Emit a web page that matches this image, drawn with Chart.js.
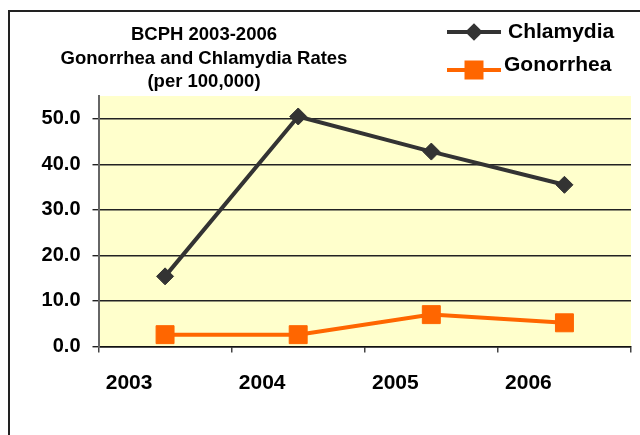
<!DOCTYPE html>
<html><head><meta charset="utf-8">
<script src="https://cdn.jsdelivr.net/npm/chart.js@4/dist/chart.umd.min.js"></script>
<style>html,body{margin:0;padding:0;background:#fff}#wrap{width:640px;height:435px;position:relative}</style>
</head><body><div id="wrap"><canvas id="c" width="640" height="435"></canvas></div>
<script>
const years = ['2003', '2004', '2005', '2006'];
const chlamydia = [15.4, 50.5, 42.8, 35.5];
const gonorrhea = [2.6, 2.6, 7.0, 5.2];
const yTickValues = [0, 10, 20, 30, 40, 50];
const titleLines = ['BCPH 2003-2006', 'Gonorrhea and Chlamydia Rates', '(per 100,000)'];
const seriesNames = ['Chlamydia', 'Gonorrhea'];

const FONT = '"Liberation Sans", Arial, sans-serif';

const decorPlugin = {
  id: 'decor',
  beforeDraw(chart) {
    const ctx = chart.ctx, a = chart.chartArea;
    ctx.save();
    ctx.fillStyle = '#fff';
    ctx.fillRect(0, 0, chart.width, chart.height);
    ctx.fillStyle = '#FFFFCC';
    ctx.fillRect(a.left, a.top, a.right - a.left, a.bottom - a.top);
    ctx.strokeStyle = '#222';
    ctx.lineWidth = 2;
    ctx.beginPath();
    ctx.moveTo(9, 500); ctx.lineTo(9, 11); ctx.lineTo(700, 11);
    ctx.stroke();
    ctx.restore();
  },
  afterDraw(chart) {
    const ctx = chart.ctx;
    ctx.save();
    ctx.fillStyle = '#000';
    ctx.font = 'bold 18.5px ' + FONT;
    ctx.textAlign = 'center';
    ctx.textBaseline = 'middle';
    const ty = [35, 58.5, 82];
    titleLines.forEach((t, i) => ctx.fillText(t, 204, ty[i]));
    const L = [
      {ly: 32, ty: 32, tx: 508, r: 6},
      {ly: 70, ty: 65, tx: 504, r: 10.6}
    ];
    chart.data.datasets.forEach((ds, i) => {
      const p = L[i];
      ctx.strokeStyle = ds.borderColor;
      ctx.lineWidth = 4;
      ctx.beginPath();
      ctx.moveTo(447, p.ly); ctx.lineTo(501, p.ly);
      ctx.stroke();
      ctx.fillStyle = ds.backgroundColor;
      ctx.strokeStyle = ds.borderColor;
      Chart.helpers.drawPoint(ctx, {pointStyle: ds.pointStyle, radius: p.r, rotation: 0, borderWidth: 1}, 474, p.ly);
      ctx.fillStyle = '#000';
      ctx.font = 'bold 21px ' + FONT;
      ctx.textAlign = 'left';
      ctx.textBaseline = 'middle';
      ctx.fillText(ds.label, p.tx, p.ty);
    });
    ctx.restore();
  }
};

new Chart(document.getElementById('c'), {
  type: 'line',
  data: {
    labels: years,
    datasets: [
      {
        label: seriesNames[0], data: chlamydia,
        borderColor: '#333333', backgroundColor: '#333333',
        borderWidth: 4, pointStyle: 'rectRot', pointRadius: 8.5,
        pointBorderWidth: 1, pointHoverRadius: 8.5, tension: 0
      },
      {
        label: seriesNames[1], data: gonorrhea,
        borderColor: '#FF6600', backgroundColor: '#FF6600',
        borderWidth: 4, pointStyle: 'rect', pointRadius: 12.7,
        pointBorderWidth: 1, pointHoverRadius: 12.7, tension: 0
      }
    ]
  },
  options: {
    responsive: false,
    animation: false,
    events: [],
    layout: {autoPadding: false, padding: {top: 96, right: 9, bottom: 0, left: 0}},
    plugins: {legend: {display: false}, title: {display: false}, tooltip: {enabled: false}},
    scales: {
      x: {
        type: 'category',
        offset: true,
        afterFit(s) { s.height = 88.5; s.paddingLeft = 0; s.paddingRight = 0; },
        grid: {offset: true, drawOnChartArea: false, drawTicks: true, tickLength: 6, color: '#444', lineWidth: 1.5},
        border: {display: true, color: '#111', width: 1.5},
        ticks: {color: '#000', font: {family: FONT, size: 21, weight: 'bold'}, padding: 18, labelOffset: -36, maxRotation: 0}
      },
      y: {
        min: 0, max: 55,
        afterFit(s) { s.width = 98.5; s.paddingTop = 0; s.paddingBottom = 0; },
        afterBuildTicks(s) { s.ticks = yTickValues.map(v => ({value: v})); },
        grid: {color: '#222', lineWidth: 1.4, drawTicks: true, tickLength: 6},
        border: {display: true, color: '#666', width: 2},
        ticks: {color: '#000', font: {family: FONT, size: 20, weight: 'bold'}, padding: 12,
          callback: v => Number(v).toFixed(1)}
      }
    }
  },
  plugins: [decorPlugin]
});
</script>
</body></html>
